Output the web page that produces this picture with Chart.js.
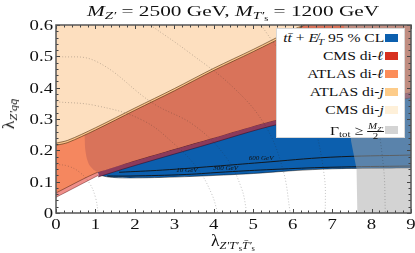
<!DOCTYPE html>
<html>
<head>
<meta charset="utf-8">
<script src="https://cdn.jsdelivr.net/npm/chart.js@4.4.1/dist/chart.umd.min.js"></script>
<style>
body { margin: 0; background: #fff; }
#wrap { position: relative; width: 415px; height: 253px; font-family: "Liberation Serif", serif; color: #111; }
canvas { position: absolute; left: 0; top: 0; }
.title { position: absolute; left: 233px; top: 11px; transform: translate(-50%, -50%) scaleX(1.42); font-size: 15px; white-space: nowrap; }
.ylab { position: absolute; left: 9px; top: 114px; transform: translate(-50%, -50%) rotate(-90deg) scaleX(1.1); font-size: 16px; white-space: nowrap; }
.xlab { position: absolute; left: 233px; top: 241px; transform: translate(-50%, -50%) scaleX(1.1); font-size: 16px; white-space: nowrap; }
sub { font-size: 70%; vertical-align: -0.3em; line-height: 0; }
.legend { position: absolute; left: 276px; top: 28px; width: 129px; height: 110px; background: #fff; border: 1px solid #d8d8d8; box-sizing: border-box; font-size: 13px; }
.row { position: absolute; right: 0; width: 129px; height: 16px; }
.row .txt { position: absolute; right: 20px; top: 0; white-space: nowrap; line-height: 16px; transform: scaleX(1.2); transform-origin: right center; }
.row .sw { position: absolute; left: 110px; top: 4px; width: 13px; height: 8px; }
.frac { display: inline-block; vertical-align: middle; text-align: center; font-size: 70%; line-height: 1; }
.frac span { display: block; }
.frac .num { border-bottom: 0.6px solid #111; padding: 0 1px; }
</style>
</head>
<body>
<div id="wrap">
  <canvas id="chart" width="415" height="253"></canvas>
  <div class="title"><i>M</i><sub><i>Z′</i></sub> = 2500 GeV, <i>M</i><sub><i>T′</i><sub>s</sub></sub> = 1200 GeV</div>
  <div class="ylab">λ<sub><i>Z′qq̄</i></sub></div>
  <div class="xlab">λ<sub><i>Z′T′</i><sub>s</sub><i>T̄′</i><sub>s</sub></sub></div>
  <div class="legend" id="legend"></div>
</div>
<script>
// boundaries (x = lambda_Z'T'T', y = lambda_Z'qq)
var dijX = [0, 0.3, 1, 2, 3, 4, 5, 6, 6.3];
var cmsDijLow = [0.223, 0.232, 0.272, 0.335, 0.397, 0.462, 0.522, 0.585, 0.6];
var atlasDijLow = [0.216, 0.225, 0.265, 0.328, 0.39, 0.455, 0.515, 0.578, 0.6];

var atlasDilX = [0, 1.07, 1.88, 3.66, 5.6, 9];
var atlasDilLow = [0.064, 0.131, 0.163, 0.228, 0.298, 0.386];

// CMS di-lepton overlapping region: curved left edge then the band
var cmsDilX = [0.72, 0.74, 0.78, 0.85, 0.95, 1.07, 1.88, 3.66, 5.6, 9];
var cmsDilLow = [0.25, 0.205, 0.175, 0.152, 0.138, 0.131, 0.163, 0.228, 0.298, 0.386];

var cmsBandLeftX = [0, 1.07];
var cmsBandLeft = [0.05, 0.12];
var cmsBandX = [1.07, 1.88, 3.66, 5.6, 9];
var cmsBand = [0.115, 0.147, 0.212, 0.282, 0.368];

var ttmetX = [1.07, 1.2, 1.5, 1.88, 2.5, 3.5, 5, 6, 7, 8, 9];
var ttmetLow = [0.128, 0.118, 0.113, 0.112, 0.113, 0.117, 0.126, 0.135, 0.141, 0.143, 0.144];

var widthX = [7.3, 7.48, 7.62, 7.64, 9];
var widthLow = [0.6, 0.23, 0.14, 0, 0];

// mass contours inside the ttbar+MET region
var c600X = [1.6, 2.7, 4, 5.2, 6.95, 9];
var c600 = [0.13, 0.137, 0.149, 0.161, 0.178, 0.185];
var c10X = [1.3, 1.88, 3.3, 4.3, 5.5, 6.95, 9];
var c10 = [0.118, 0.118, 0.123, 0.131, 0.139, 0.146, 0.15];
var contourLabels = [
  { text: '10 GeV', x: 3.32, y: 0.124 },
  { text: '300 GeV', x: 4.3, y: 0.133 },
  { text: '600 GeV', x: 5.2, y: 0.164 }
];

// dotted iso-lines
var dotAX = [0, 0.3, 0.6, 0.85, 1.0, 1.07];
var dotA = [0.155, 0.15, 0.13, 0.095, 0.05, 0];
var dotBX = [0, 1, 2.18, 3, 3.6, 3.95, 4.1];
var dotB = [0.355, 0.343, 0.297, 0.22, 0.14, 0.06, 0];
var dotCX = [0, 1, 2.46, 3.5, 4.3, 4.7, 4.84];
var dotC = [0.5, 0.485, 0.35, 0.28, 0.18, 0.08, 0];
var dotDX = [2.39, 3.4, 4.5, 5.3, 5.75, 5.94];
var dotD = [0.6, 0.51, 0.4, 0.28, 0.14, 0];
var dotEX = [5.2, 6.0, 6.5, 6.8, 6.83];
var dotE = [0.6, 0.45, 0.3, 0.12, 0];
var dotFX = [7.6, 8.0, 8.3, 8.35];
var dotF = [0.6, 0.4, 0.15, 0];

var xTicks = [0, 1, 2, 3, 4, 5, 6, 7, 8, 9];
var yTicks = [0, 0.1, 0.2, 0.3, 0.4, 0.5, 0.6];

var legendItems = [
  { html: '<i>t</i><i>t̄</i> + <i>E̸</i><sub><i>T</i></sub> 95 % CL', color: '#0c5fae' },
  { html: 'CMS di-<i>ℓ</i>', color: '#d7301f' },
  { html: 'ATLAS di-<i>ℓ</i>', color: '#fc8d59' },
  { html: 'ATLAS di-<i>j</i>', color: '#fdcc8a' },
  { html: 'CMS di-<i>j</i>', color: '#fef0d9' },
  { html: 'Γ<sub>tot</sub> ≥ <span class="frac"><span class="num"><i>M</i><sub><i>Z′</i></sub></span><span>2</span></span>', color: '#d4d4d4' }
];

var tickFont = '15px "Liberation Serif", serif';

function pts(xs, ys) {
  return xs.map(function(x, i) { return { x: x, y: ys[i] }; });
}

function region(xs, ys, color, edge, order) {
  return {
    data: pts(xs, ys),
    backgroundColor: color,
    borderColor: edge,
    borderWidth: edge ? 0.8 : 0,
    fill: 'end',
    pointRadius: 0,
    showLine: true,
    tension: 0.3,
    order: order
  };
}

function curve(xs, ys, color, width, dash, order) {
  return {
    data: pts(xs, ys),
    borderColor: color,
    borderWidth: width,
    borderDash: dash,
    fill: false,
    pointRadius: 0,
    showLine: true,
    tension: 0.4,
    order: order
  };
}

var dotColor = 'rgba(40,40,40,0.4)';
var datasets = [
  region(ttmetX, ttmetLow, '#0c5fae', 'rgba(0,0,0,0.6)', 20),
  region(cmsBandLeftX, cmsBandLeft, '#ef8f8a', 'rgba(80,0,0,0.5)', 19),
  region(cmsBandX, cmsBand, '#8c3b5b', 'rgba(40,0,20,0.6)', 18),
  region(atlasDilX, atlasDilLow, '#f5875f', 'rgba(60,20,0,0.6)', 17),
  region(cmsDilX, cmsDilLow, '#d9735a', null, 16),
  region(dijX, atlasDijLow, '#fbc48c', 'rgba(60,30,0,0.7)', 15),
  region(dijX, cmsDijLow, '#fddfbf', 'rgba(60,30,0,0.7)', 14),
  curve(c600X, c600, '#111', 0.9, [], 13),
  curve(c10X, c10, '#111', 0.9, [], 12),
  region(widthX, widthLow, 'rgba(167,167,167,0.5)', null, 11),
  curve(dotAX, dotA, dotColor, 0.7, [1, 2], 5),
  curve(dotBX, dotB, dotColor, 0.7, [1, 2], 5),
  curve(dotCX, dotC, dotColor, 0.7, [1, 2], 5),
  curve(dotDX, dotD, dotColor, 0.7, [1, 2], 5),
  curve(dotEX, dotE, dotColor, 0.7, [1, 2], 5),
  curve(dotFX, dotF, dotColor, 0.7, [1, 2], 5)
];
datasets[4].tension = 0.2;
datasets[9].tension = 0;

function stretchedText(ctx, text, x, y, align) {
  // the reference lettering is a little wider than the font, stretch it
  ctx.save();
  ctx.translate(x, y);
  ctx.scale(1.25, 1);
  ctx.textAlign = align;
  ctx.fillText(text, 0, 0);
  ctx.restore();
}

// inward ticks on all four sides, frame and tick labels
var frameTicks = {
  id: 'frameTicks',
  afterDatasetsDraw: function(chart) {
    var ctx = chart.ctx, a = chart.chartArea;
    var xs = chart.scales.x, ys = chart.scales.y;
    ctx.save();
    ctx.strokeStyle = '#444';
    ctx.lineWidth = 1;
    ctx.beginPath();
    for (var i = 0; i <= 45; i++) {
      var px = Math.round(xs.getPixelForValue(i * 0.2)) + 0.5;
      var len = i % 5 === 0 ? 4 : 2.5;
      ctx.moveTo(px, a.bottom); ctx.lineTo(px, a.bottom - len);
      ctx.moveTo(px, a.top); ctx.lineTo(px, a.top + len);
    }
    for (var j = 0; j <= 30; j++) {
      var py = Math.round(ys.getPixelForValue(j * 0.02)) + 0.5;
      var l2 = j % 5 === 0 ? 4 : 2.5;
      ctx.moveTo(a.left, py); ctx.lineTo(a.left + l2, py);
      ctx.moveTo(a.right, py); ctx.lineTo(a.right - l2, py);
    }
    ctx.stroke();
    ctx.strokeStyle = '#555';
    ctx.lineWidth = 1.5;
    ctx.strokeRect(a.left, a.top, a.right - a.left, a.bottom - a.top);

    ctx.fillStyle = '#111';
    ctx.font = tickFont;
    ctx.textBaseline = 'middle';
    xTicks.forEach(function(v) {
      stretchedText(ctx, String(v), xs.getPixelForValue(v), a.bottom + 12, 'center');
    });
    yTicks.forEach(function(v) {
      stretchedText(ctx, v === 0 ? '0' : v.toFixed(1), a.left - 3, ys.getPixelForValue(v) + 1, 'right');
    });

    // contour labels
    ctx.font = 'italic 7px "Liberation Serif", serif';
    ctx.textAlign = 'center';
    ctx.textBaseline = 'bottom';
    contourLabels.forEach(function(l) {
      ctx.fillText(l.text, xs.getPixelForValue(l.x), ys.getPixelForValue(l.y));
    });
    ctx.restore();
  }
};

new Chart(document.getElementById('chart').getContext('2d'), {
  type: 'scatter',
  data: { datasets: datasets },
  options: {
    responsive: false,
    animation: false,
    devicePixelRatio: 1,
    layout: { padding: { top: 25, right: 4, left: 0, bottom: 0 } },
    plugins: { legend: { display: false }, tooltip: { enabled: false } },
    scales: {
      x: {
        type: 'linear', min: 0, max: 9,
        afterFit: function(s) { s.height = 40; },
        grid: { display: false },
        border: { display: false },
        ticks: { display: false }
      },
      y: {
        type: 'linear', min: 0, max: 0.6,
        afterFit: function(s) { s.width = 56; },
        grid: { display: false },
        border: { display: false },
        ticks: { display: false }
      }
    }
  },
  plugins: [frameTicks]
});

var legend = document.getElementById('legend');
legendItems.forEach(function(item, i) {
  var row = document.createElement('div');
  row.className = 'row';
  row.style.top = (i < 5 ? 1 + i * 18 : 93) + 'px';
  row.innerHTML = '<span class="txt">' + item.html + '</span><span class="sw" style="background:' + item.color + '"></span>';
  legend.appendChild(row);
});
</script>
</body>
</html>
